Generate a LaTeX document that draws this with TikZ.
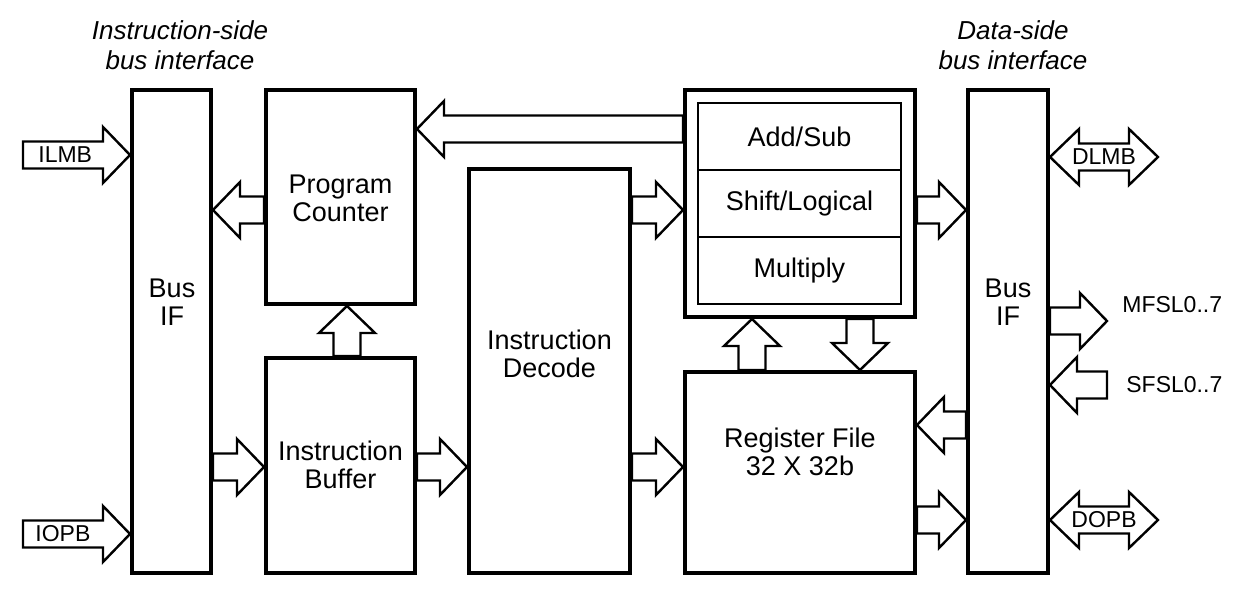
\documentclass[tikz,border=0pt]{standalone}
\usepackage{fontspec}
\setmainfont{Liberation Sans}
\usepackage{tikz}
\usetikzlibrary{positioning}
\usetikzlibrary{calc}

\newcommand{\boxfont}{\fontsize{13.5}{14}\selectfont}
\newcommand{\sigfont}{\fontsize{11.5}{13}\selectfont}
\newcommand{\headfont}{\itshape\fontsize{13}{15}\selectfont}

\tikzset{
	blockbox/.style={draw,line width=2pt,inner sep=0pt},
	boxtext/.style={align=center,inner sep=0pt,font=\boxfont},
	aluRow/.style={draw,line width=1pt,outer sep=0pt,inner sep=0pt,minimum width=101.5pt,minimum height=33.5pt,font=\boxfont},
	sigtext/.style={inner sep=0pt,font=\sigfont},
	headtext/.style={align=center,inner sep=0pt,font=\headfont},
	busArrow/.style={draw,fill=white,line width=1.2pt,line join=miter,
		to path={let \p1=(\tikztostart), \p2=(\tikztotarget),
			\n1={veclen(\x2-\x1,\y2-\y1)}, \n2={atan2(\y2-\y1,\x2-\x1)}, \n3={\n1-13.5pt} in
			[shift={(\p1)},rotate=\n2]
			(0pt,6.75pt) -- ({\n3+0pt},6.75pt) -- ({\n3+0pt},14pt) -- ({\n1+0pt},0pt)
			-- ({\n3+0pt},-14pt) -- ({\n3+0pt},-6.75pt) -- (0pt,-6.75pt) -- cycle}},
	busArrowBoth/.style={draw,fill=white,line width=1.2pt,line join=miter,
		to path={let \p1=(\tikztostart), \p2=(\tikztotarget),
			\n1={veclen(\x2-\x1,\y2-\y1)}, \n2={atan2(\y2-\y1,\x2-\x1)}, \n3={\n1-14.5pt} in
			[shift={(\p1)},rotate=\n2]
			(0pt,0pt) -- (14.5pt,14pt) -- (14.5pt,6.75pt) -- ({\n3+0pt},6.75pt) -- ({\n3+0pt},14pt)
			-- ({\n1+0pt},0pt) -- ({\n3+0pt},-14pt) -- ({\n3+0pt},-6.75pt) -- (14.5pt,-6.75pt)
			-- (14.5pt,-14pt) -- cycle}}
}

\begin{document}
\begin{tikzpicture}[x=0.5pt,y=-0.5pt]

	\useasboundingbox (0,0) rectangle (1244,603);

	%% Headings %%
	\node[headtext] (iside) at (180,45) {Instruction-side\\bus interface};
	\node[headtext] (dside) at (1013,45) {Data-side\\bus interface};

	%% Blocks %%
	\node[blockbox,minimum width=39.5pt,minimum height=241.5pt] (busL) at (171.5,331.5) {};
	\node[boxtext] (busLT) at (172,302) {Bus\\IF};
	\node[blockbox,minimum width=74.5pt,minimum height=107pt] (pc) at (340.5,197) {};
	\node[boxtext] (pcT) at (340.5,198.5) {Program\\Counter};
	\node[blockbox,minimum width=74.5pt,minimum height=107.5pt] (ibuf) at (340.5,465.5) {};
	\node[boxtext] (ibufT) at (340.5,465) {Instruction\\Buffer};
	\node[blockbox,minimum width=80.5pt,minimum height=202pt] (idec) at (549.5,371) {};
	\node[boxtext] (idecT) at (549.5,354) {Instruction\\Decode};
	\node[blockbox,minimum width=115pt,minimum height=113.5pt] (alu) at (800,203.5) {};
	\node[aluRow] (addsub) at (799.5,136.5) {Add/Sub};
	\node[aluRow,below=0pt of addsub] (shiftlog) {Shift/Logical};
	\node[aluRow,below=0pt of shiftlog] (mult) {Multiply};
	\node[blockbox,minimum width=115pt,minimum height=100.5pt] (rf) at (800,472.5) {};
	\node[boxtext] (rfT) at (800,452) {Register File\\32 X 32b};
	\node[blockbox,minimum width=40pt,minimum height=241.5pt] (busR) at (1008,331.5) {};
	\node[boxtext] (busRT) at (1008,302) {Bus\\IF};

	%% Instruction Side Buses %%
	\coordinate (ilmbS) at (23,155);
	\coordinate (iopbS) at (23,534);
	\draw[busArrow] (ilmbS) to (busL.west |- ilmbS);
	\node[sigtext,anchor=west] (ilmbT) at ([xshift=7.5pt]ilmbS) {ILMB};
	\draw[busArrow] (iopbS) to (busL.west |- iopbS);
	\node[sigtext,anchor=west] (iopbT) at ([xshift=6pt]iopbS) {IOPB};

	%% Internal Paths %%
	\draw[busArrow] (pc.west |- 0,210) to (busL.east |- 0,210);
	\draw[busArrow] (busL.east |- 0,467) to (ibuf.west |- 0,467);
	\draw[busArrow] (ibuf.north -| 347,0) to (pc.south -| 347,0);
	\draw[busArrow] (ibuf.east |- 0,467) to (idec.west |- 0,467);
	\draw[busArrow] (alu.west |- 0,129) to (pc.east |- 0,129);
	\draw[busArrow] (idec.east |- 0,210) to (alu.west |- 0,210);
	\draw[busArrow] (idec.east |- 0,467) to (rf.west |- 0,467);
	\draw[busArrow] (rf.north -| 752,0) to (alu.south -| 752,0);
	\draw[busArrow] (alu.south -| 860,0) to (rf.north -| 860,0);
	\draw[busArrow] (alu.east |- 0,210) to (busR.west |- 0,210);
	\draw[busArrow] (busR.west |- 0,425) to (rf.east |- 0,425);
	\draw[busArrow] (rf.east |- 0,520) to (busR.west |- 0,520);

	%% Data Side Buses %%
	\coordinate (dlmbE) at (1158,157);
	\coordinate (dopbE) at (1158,520);
	\coordinate (mfslE) at (1107,321);
	\coordinate (sfslS) at (1107,385);
	\draw[busArrowBoth] (busR.east |- dlmbE) to (dlmbE);
	\node[sigtext] (dlmbT) at ($(busR.east |- dlmbE)!0.5!(dlmbE)$) {DLMB};
	\draw[busArrowBoth] (busR.east |- dopbE) to (dopbE);
	\node[sigtext] (dopbT) at ($(busR.east |- dopbE)!0.5!(dopbE)$) {DOPB};
	\draw[busArrow] (busR.east |- mfslE) to (mfslE);
	\node[sigtext,anchor=west] (mfslT) at (1122,305) {MFSL0..7};
	\draw[busArrow] (sfslS) to (busR.east |- sfslS);
	\node[sigtext,anchor=west] (sfslT) at (1126,385) {SFSL0..7};

\end{tikzpicture}
\end{document}
